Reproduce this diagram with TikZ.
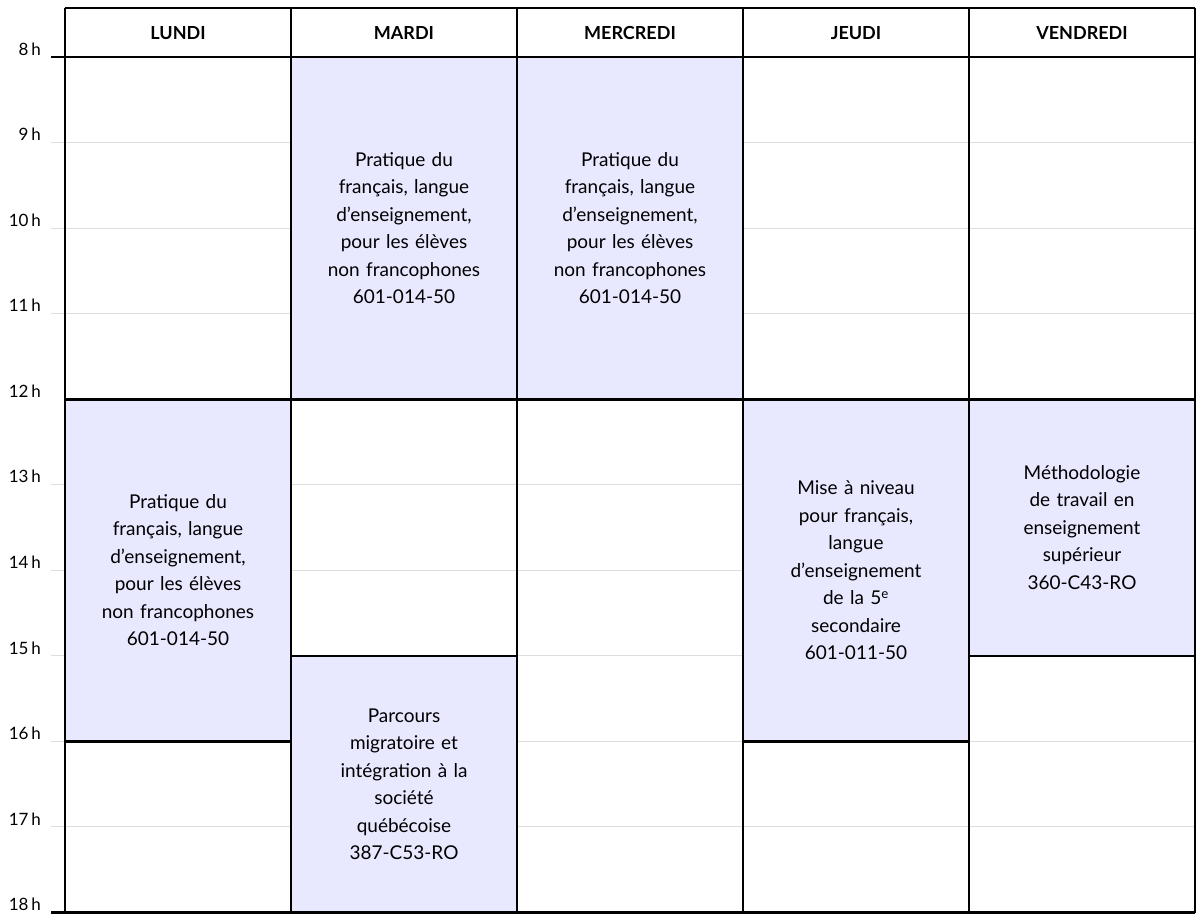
\documentclass[tikz,border=0pt]{standalone}
\usepackage{fontspec}
\setmainfont{Lato}
\begin{document}
\begin{tikzpicture}[x=1pt,y=-1pt,
  blk/.style={fill=blue!9!white},
  txt/.style={align=center,font=\fontsize{19}{27.5}\selectfont,text width=210pt},
  hdr/.style={font=\fontsize{18}{20}\selectfont\bfseries},
  hr/.style={anchor=east,font=\fontsize{17}{18}\selectfont,inner sep=0pt},
  thick line/.style={line width=2.6pt},
  grid line/.style={draw=black!13,line width=1pt}]
\useasboundingbox (0,0) rectangle (1200,921);
\def\Y#1{57+85.55*(#1-8)}
% blocks
\fill[blk] (291,{\Y{8}}) rectangle (517,{\Y{12}});
\fill[blk] (517,{\Y{8}}) rectangle (743,{\Y{12}});
\fill[blk] (65,{\Y{12}}) rectangle (291,{\Y{16}});
\fill[blk] (743,{\Y{12}}) rectangle (969,{\Y{16}});
\fill[blk] (969,{\Y{12}}) rectangle (1195,{\Y{15}});
\fill[blk] (291,{\Y{15}}) rectangle (517,{\Y{18}});
% grid lines (white cells only)
\foreach \h in {9,10,11,13,14,15,16,17}{
  \draw[grid line] (51,{\Y{\h}}) -- (65,{\Y{\h}});}
\foreach \h in {9,10,11}{
  \draw[grid line] (65,{\Y{\h}}) -- (291,{\Y{\h}});
  \draw[grid line] (743,{\Y{\h}}) -- (1195,{\Y{\h}});}
\foreach \h in {13,14}{\draw[grid line] (291,{\Y{\h}}) -- (743,{\Y{\h}});}
\foreach \h in {15,16,17}{\draw[grid line] (517,{\Y{\h}}) -- (743,{\Y{\h}});}
\foreach \h in {17}{\draw[grid line] (65,{\Y{\h}}) -- (291,{\Y{\h}}); \draw[grid line] (743,{\Y{\h}}) -- (969,{\Y{\h}});}
\foreach \h in {16,17}{\draw[grid line] (969,{\Y{\h}}) -- (1195,{\Y{\h}});}
% hour labels
\foreach \h in {8,...,18}{\node[hr] (h\h) at (41,{\Y{\h}-8}) {\h\,h};}
% thick lines
\draw[thick line] (65,8) -- (1195,8);
\draw[thick line] (51,{\Y{8}}) -- (1195,{\Y{8}});
\draw[thick line] (51,{\Y{18}}) -- (1195,{\Y{18}});
\draw[thick line] (65,{\Y{12}}) -- (1195,{\Y{12}});
\draw[thick line] (65,{\Y{16}}) -- (291,{\Y{16}});
\draw[thick line] (743,{\Y{16}}) -- (969,{\Y{16}});
\draw[thick line] (291,{\Y{15}}) -- (517,{\Y{15}});
\draw[thick line] (969,{\Y{15}}) -- (1195,{\Y{15}});
\foreach \x in {65,291,517,743,969,1195}{\draw[thick line] (\x,8) -- (\x,{\Y{18}});}
% headers
\node[hdr] (lun) at (178,33) {LUNDI};
\node[hdr] (mar) at (404,33) {MARDI};
\node[hdr] (mer) at (630,33) {MERCREDI};
\node[hdr] (jeu) at (856,33) {JEUDI};
\node[hdr] (ven) at (1082,33) {VENDREDI};
% texts
\node[txt] (t1) at (404,{\Y{10}}) {Pratique du\\français, langue\\d’enseignement,\\pour les élèves\\non francophones\\601-014-50};
\node[txt] (t2) at (630,{\Y{10}}) {Pratique du\\français, langue\\d’enseignement,\\pour les élèves\\non francophones\\601-014-50};
\node[txt] (t3) at (178,{\Y{14}}) {Pratique du\\français, langue\\d’enseignement,\\pour les élèves\\non francophones\\601-014-50};
\node[txt] (t4) at (856,{\Y{14}}) {Mise à niveau\\pour français,\\langue\\d’enseignement\\de la 5\textsuperscript{e}\\secondaire\\601-011-50};
\node[txt] (t5) at (1082,{\Y{13.5}}) {Méthodologie\\de travail en\\enseignement\\supérieur\\360-C43-RO};
\node[txt] (t6) at (404,{\Y{16.5}}) {Parcours\\migratoire et\\intégration à la\\société\\québécoise\\387-C53-RO};
\end{tikzpicture}
\end{document}
